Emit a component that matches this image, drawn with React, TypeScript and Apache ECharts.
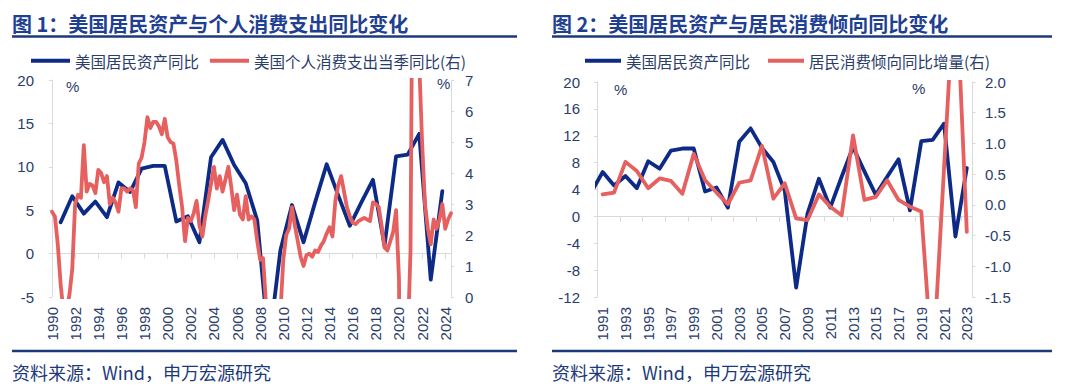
import React, { useEffect, useRef } from "react";
import * as echarts from "echarts";

// ---- Data ----
// Fig.1 / Fig.2 : US household assets YoY (%, annual, left axis)
const assetYears = [
  1990, 1991, 1992, 1993, 1994, 1995, 1996, 1997, 1998, 1999, 2000, 2001, 2002, 2003, 2004, 2005, 2006,
  2007, 2008, 2009, 2010, 2011, 2012, 2013, 2014, 2015, 2016, 2017, 2018, 2019, 2020, 2021, 2022, 2023,
];
const assetYoY = [
  3.6, 6.6, 4.6, 6.0, 4.2, 8.2, 7.1, 9.8, 10.1, 10.1, 3.7, 4.3, 1.3, 11.1, 13.1, 10.2, 8.1, 3.8, -10.6,
  0.4, 5.6, 1.3, 5.9, 10.3, 6.7, 3.2, 5.9, 8.5, 0.9, 11.2, 11.4, 13.8, -3.0, 7.2,
];

// Fig.1 : US personal consumption expenditure, quarterly YoY (%, right axis), 1990Q1 - 2024Q3
const pceStartYear = 1990;
const pceYoY = [
  2.75, 2.6, 1.7, 0.4, -0.5, -0.4, 0.05, 0.9, 3.0, 3.3, 3.2, 4.9, 3.4, 3.65, 3.6, 3.35, 4.1, 4.0, 3.7, 3.9,
  3.0, 3.2, 3.05, 2.75, 3.5, 3.5, 3.4, 3.5, 3.45, 2.9, 4.3, 4.5, 5.0, 5.8, 5.45, 5.65, 5.65, 5.5, 5.25, 5.75,
  5.15, 5.0, 4.95, 4.4, 3.6, 2.9, 1.8, 2.55, 2.45, 2.7, 3.1, 2.3, 1.95, 2.6, 3.1, 3.65, 4.2, 3.5, 3.9, 3.4,
  3.8, 4.2, 3.55, 2.8, 3.3, 2.65, 2.5, 3.25, 2.5, 2.6, 2.5, 1.8, 1.2, 1.25, -0.2, -1.4, -1.3, -1.6, -1.0, -0.5,
  1.2, 2.0, 2.2, 2.9, 2.3, 1.8, 1.3, 1.0, 1.35, 1.4, 1.3, 1.5, 1.45, 1.65, 1.8, 2.05, 2.25, 1.95, 3.1, 3.6,
  3.9, 3.4, 2.9, 2.6, 2.4, 2.35, 2.45, 2.5, 2.55, 2.5, 2.45, 3.05, 3.0, 2.9, 2.3, 1.6, 1.5, 1.8, 2.1, 2.8,
  0.6, -9.5, -2.5, -1.5, 1.5, 16.0, 8.5, 7.6, 5.0, 3.0, 2.2, 1.7, 2.5, 2.2, 2.5, 3.0, 2.2, 2.5, 2.7,
];

// Fig.2 : change in household propensity to consume, YoY increment (pct pt, right axis)
const propYears = [
  1991, 1992, 1993, 1994, 1995, 1996, 1997, 1998, 1999, 2000, 2001, 2002, 2003, 2004, 2005, 2006, 2007,
  2008, 2009, 2010, 2011, 2012, 2013, 2014, 2015, 2016, 2017, 2018, 2019, 2020, 2021, 2022, 2023,
];
const propYoY = [
  0.17, 0.2, 0.7, 0.55, 0.27, 0.43, 0.39, 0.18, 0.83, 0.4, 0.2, 0.01, 0.36, 0.4, 0.96, 0.1, 0.35, -0.22,
  -0.25, 0.17, -0.03, -0.17, 1.13, 0.08, 0.13, 0.4, 0.08, -0.03, -0.11, -2.7, 0.6, 3.9, -0.44,
];

// Tick labels
const fig1XLabels = [
  1990, 1992, 1994, 1996, 1998, 2000, 2002, 2004, 2006, 2008, 2010, 2012, 2014, 2016, 2018, 2020, 2022, 2024,
];
const fig2XLabels = [
  1991, 1993, 1995, 1997, 1999, 2001, 2003, 2005, 2007, 2009, 2011, 2013, 2015, 2017, 2019, 2021, 2023,
];
const fig2XTicks = [
  1992.5, 1994.5, 1996.5, 1998.5, 2000.5, 2002.5, 2004.5, 2006.5, 2008.5, 2010.5, 2012.5, 2014.5, 2016.5,
  2018.5, 2020.5, 2022.5,
];

const names = {
  asset: "美国居民资产同比",
  pce: "美国个人消费支出当季同比(右)",
  prop: "居民消费倾向同比增量(右)",
};

// ---- Styles ----
const CJK = '"Noto Sans CJK SC", "Noto Sans", sans-serif';
const NUM = '"Liberation Sans", Arial, sans-serif';
const TITLE = "#1f3f93";
const RULE = "#1c3a7a";
const TEXT = "#2a3d6b";
const BLUE = "#0d2b86";
const RED = "#e5605f";
const AXIS = "#d9d9d9";

function xLabelAxis(gridIndex: number, min: number, max: number, labels: number[]) {
  return {
    type: "value",
    gridIndex,
    min,
    max,
    position: "bottom",
    axisLine: { show: false, onZero: false },
    axisTick: { show: false },
    splitLine: { show: false },
    axisLabel: {
      rotate: 90,
      customValues: labels,
      formatter: (v: number) => String(Math.round(v)),
      fontSize: 15,
      color: TEXT,
      fontFamily: NUM,
      margin: 10,
    },
  };
}

function xZeroAxis(gridIndex: number, min: number, max: number, ticks: number[], yIndex: number) {
  return {
    type: "value",
    gridIndex,
    min,
    max,
    position: "bottom",
    axisLine: { show: true, onZero: true, onZeroAxisIndex: yIndex, lineStyle: { color: AXIS, width: 1 } },
    axisTick: { show: true, customValues: ticks, length: 5, lineStyle: { color: AXIS } },
    axisLabel: { show: false },
    splitLine: { show: false },
  };
}

function yAxis(
  gridIndex: number,
  position: string,
  min: number,
  max: number,
  interval: number,
  margin: number,
  digits = 0
) {
  return {
    type: "value",
    gridIndex,
    position,
    min,
    max,
    interval,
    axisLine: { show: true, onZero: false, lineStyle: { color: AXIS, width: 1 } },
    axisTick: { show: true, length: 3, lineStyle: { color: AXIS } },
    splitLine: { show: false },
    axisLabel: {
      fontSize: 15,
      color: TEXT,
      fontFamily: NUM,
      margin,
      formatter: (v: number) => v.toFixed(digits),
    },
  };
}

function txt(text: string, x: number, y: number, size: number, color: string, font: string, weight = "normal") {
  return {
    type: "text",
    x,
    y,
    silent: true,
    style: { text, fill: color, fontSize: size, fontFamily: font, fontWeight: weight, verticalAlign: "middle" },
  };
}

function rule(x1: number, x2: number, y: number) {
  return {
    type: "line",
    silent: true,
    shape: { x1, y1: y, x2, y2: y },
    style: { stroke: RULE, lineWidth: 2.6 },
  };
}

function buildOption() {
  const assetFig1 = assetYears.map((y, i) => [y + 0.75, assetYoY[i]]);
  const pceData = pceYoY.map((v, i) => [pceStartYear + i / 4, v]);
  const assetFig2 = assetYears.map((y, i) => [y, assetYoY[i]]);
  const propData = propYears.map((y, i) => [y, propYoY[i]]);

  const lineSeries = (name: string, data: number[][], color: string, xi: number, yi: number) => ({
    type: "line",
    name,
    data,
    xAxisIndex: xi,
    yAxisIndex: yi,
    symbol: "none",
    clip: true,
    lineStyle: { color, width: 3.8, join: "round", cap: "round" },
    itemStyle: { color },
    emphasis: { disabled: true },
  });

  const legendCommon = {
    icon: "rect",
    itemHeight: 4,
    orient: "horizontal",
    selectedMode: false,
    textStyle: { fontSize: 15.5, color: TEXT, fontFamily: CJK },
  };

  return {
    animation: false,
    backgroundColor: "#ffffff",
    grid: [
      { left: 52, top: 80, width: 399, height: 217, outerBoundsMode: "none", containLabel: false },
      { left: 597, top: 82, width: 375.5, height: 215, outerBoundsMode: "none", containLabel: false },
    ],
    legend: [
      { ...legendCommon, left: 26, top: 48, itemWidth: 39, itemGap: 11, data: [names.asset, names.pce] },
      { ...legendCommon, left: 580, top: 48, itemWidth: 36, itemGap: 18, data: [names.asset, names.prop] },
    ],
    xAxis: [
      xLabelAxis(0, 1990, 2024.5, fig1XLabels),
      xZeroAxis(0, 1990, 2024.5, fig1XLabels, 0),
      xLabelAxis(1, 1990.5, 2023.5, fig2XLabels),
      xZeroAxis(1, 1990.5, 2023.5, fig2XTicks, 2),
    ],
    yAxis: [
      yAxis(0, "left", -5, 20, 5, 18),
      yAxis(0, "right", 0, 7, 1, 14),
      yAxis(1, "left", -12, 20, 4, 17),
      yAxis(1, "right", -1.5, 2, 0.5, 12.5, 1),
    ],
    series: [
      lineSeries(names.asset, assetFig1, BLUE, 0, 0),
      lineSeries(names.pce, pceData, RED, 0, 1),
      lineSeries(names.asset, assetFig2, BLUE, 2, 2),
      lineSeries(names.prop, propData, RED, 2, 3),
    ],
    graphic: [
      txt("图 1：美国居民资产与个人消费支出同比变化", 12, 23, 20, TITLE, CJK, "bold"),
      txt("图 2：美国居民资产与居民消费倾向同比变化", 552, 23, 20, TITLE, CJK, "bold"),
      rule(12, 517, 36.5),
      rule(552, 1052, 36.5),
      rule(12, 517, 351),
      rule(552, 1052, 351),
      txt("资料来源：Wind，申万宏源研究", 12, 372, 18, RULE, CJK),
      txt("资料来源：Wind，申万宏源研究", 552, 372, 18, RULE, CJK),
      txt("%", 66, 86, 15, TEXT, NUM),
      txt("%", 437, 83, 15, TEXT, NUM),
      txt("%", 614, 89, 15, TEXT, NUM),
      txt("%", 912, 88, 15, TEXT, NUM),
    ],
  };
}

export default function App() {
  const ref = useRef<HTMLDivElement>(null);
  useEffect(() => {
    if (!ref.current) return;
    const chart = echarts.init(ref.current, undefined, { renderer: "svg", width: 1080, height: 392 });
    chart.setOption(buildOption() as any);
    return () => chart.dispose();
  }, []);
  return (
    <div
      ref={ref}
      style={{ position: "fixed", left: 0, top: 0, width: 1080, height: 392, background: "#ffffff" }}
    />
  );
}
